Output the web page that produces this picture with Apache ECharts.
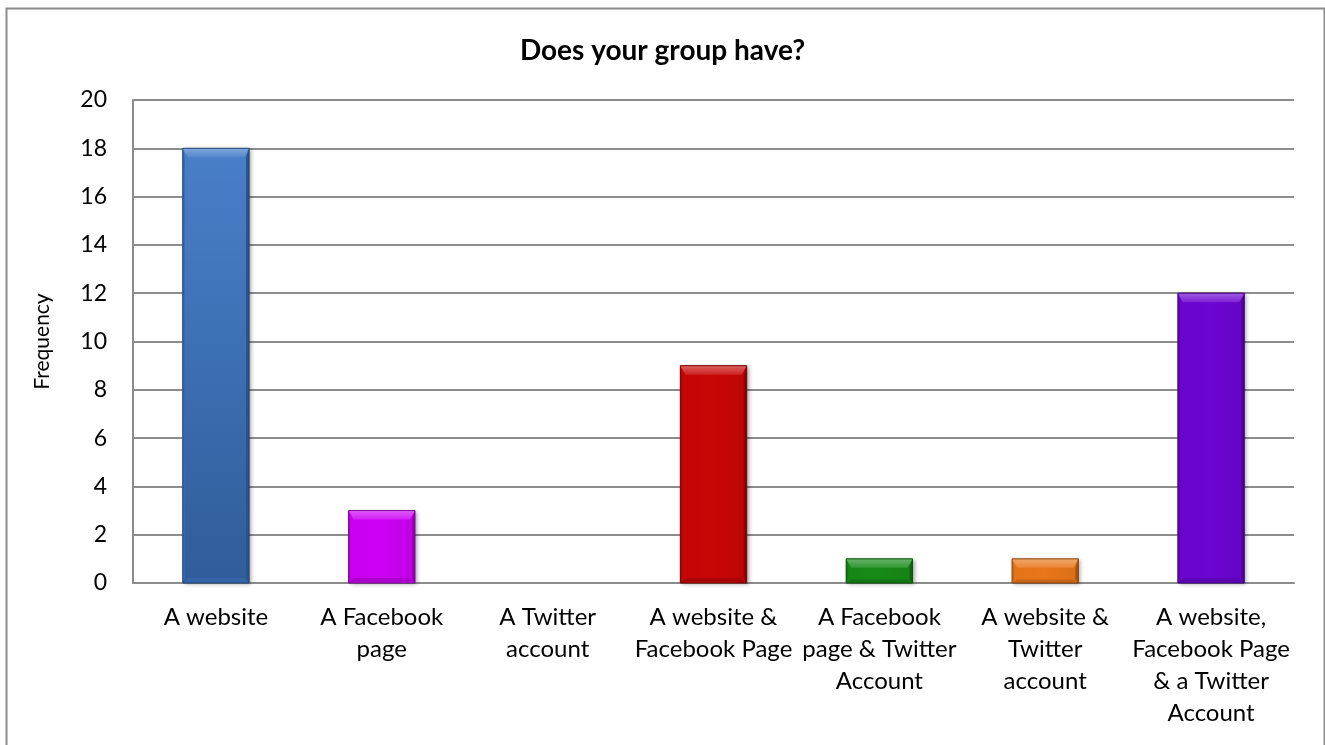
<!DOCTYPE html>
<html>
<head>
<meta charset="utf-8">
<script src="https://cdn.jsdelivr.net/npm/echarts@6/dist/echarts.min.js"></script>
<style>
  html, body { margin: 0; padding: 0; background: #fff; }
  #chart { width: 1325px; height: 745px; }
</style>
</head>
<body>
<div id="chart"></div>
<script>
const titleText = 'Does your group have?';
const yAxisName = 'Frequency';
const categories = [
  'A website',
  'A Facebook\npage',
  'A Twitter\naccount',
  'A website &\nFacebook Page',
  'A Facebook\npage & Twitter\nAccount',
  'A website &\nTwitter\naccount',
  'A website,\nFacebook Page\n& a Twitter\nAccount'
];
const values = [18, 3, 0, 9, 1, 1, 12];
const colorList = ['#3d77c6', '#cc00f5', '#888888', '#c80606', '#168a16', '#e8761a', '#6c04d2'];
const yMin = 0, yMax = 20, yInterval = 2;

function shade(hex, amt) {
  const n = parseInt(hex.slice(1), 16);
  let r = (n >> 16) & 255, g = (n >> 8) & 255, b = n & 255;
  if (amt >= 0) {
    r = Math.round(r + (255 - r) * amt); g = Math.round(g + (255 - g) * amt); b = Math.round(b + (255 - b) * amt);
  } else {
    r = Math.round(r * (1 + amt)); g = Math.round(g * (1 + amt)); b = Math.round(b * (1 + amt));
  }
  return 'rgb(' + r + ',' + g + ',' + b + ')';
}

const chart = echarts.init(document.getElementById('chart'));
const font = 'Lato, "Open Sans", sans-serif';

function renderBar(params, api) {
  const idx = api.value(0);
  const v = api.value(1);
  if (!v) return null;
  const top = api.coord([idx, v]);
  const base = api.coord([idx, 0]);
  const w = api.size([1, 0])[0] * 0.4;
  const x0 = top[0] - w / 2, x1 = top[0] + w / 2;
  const y0 = top[1], y1 = base[1];
  const h = y1 - y0;
  const bt = Math.min(9, h * 0.38);
  const bb = Math.min(5, h * 0.15);
  const bs = 5;
  const c = colorList[params.dataIndex];
  const isBlue = params.dataIndex === 0;
  const bodyFill = isBlue
    ? new echarts.graphic.LinearGradient(0, 0, 0, 1, [
        { offset: 0, color: shade(c, 0.06) }, { offset: 1, color: shade(c, -0.22) }])
    : new echarts.graphic.LinearGradient(0, 0, 1, 0, [
        { offset: 0, color: shade(c, -0.02) }, { offset: 0.5, color: c }, { offset: 1, color: shade(c, -0.06) }]);
  return {
    type: 'group',
    children: [
      { type: 'rect', shape: { x: x0, y: y0, width: w, height: h },
        style: { fill: bodyFill, shadowBlur: 4, shadowOffsetX: 2, shadowOffsetY: 1, shadowColor: 'rgba(0,0,0,0.35)' } },
      { type: 'polygon', shape: { points: [[x0, y0], [x1, y0], [x1 - bs, y0 + bt], [x0 + bs, y0 + bt]] },
        style: { fill: new echarts.graphic.LinearGradient(0, 0, 0, 1, [
          { offset: 0, color: shade(c, 0.35) }, { offset: 1, color: shade(c, 0.12) }]) } },
      { type: 'polygon', shape: { points: [[x0, y1], [x1, y1], [x1 - bs, y1 - bb], [x0 + bs, y1 - bb]] },
        style: { fill: shade(c, -0.15) } },
      { type: 'polygon', shape: { points: [[x1, y0], [x1, y1], [x1 - 3, y1 - bb], [x1 - 3, y0 + bt]] },
        style: { fill: shade(c, -0.3) } },
      { type: 'polygon', shape: { points: [[x0, y0], [x0, y1], [x0 + 2, y1 - bb], [x0 + 2, y0 + bt]] },
        style: { fill: shade(c, -0.12) } },
      { type: 'rect', shape: { x: x0, y: y0, width: w, height: h },
        style: { fill: 'none', stroke: shade(c, -0.4), lineWidth: 1 } }
    ]
  };
}

chart.setOption({
  animation: false,
  backgroundColor: '#fff',
  title: {
    text: titleText, left: 'center', top: 32,
    textStyle: { fontFamily: font, fontSize: 28, fontWeight: 'bold', color: '#000' }
  },
  grid: { left: 133, right: 31, top: 100, bottom: 162 },
  xAxis: {
    type: 'category', data: categories,
    axisLine: { show: true, lineStyle: { color: '#8c8c8c', width: 2 } },
    axisTick: { show: false },
    axisLabel: { interval: 0, fontFamily: font, fontSize: 24, color: '#000', lineHeight: 32, margin: 18 }
  },
  yAxis: {
    type: 'value', min: yMin, max: yMax, interval: yInterval,
    name: yAxisName, nameLocation: 'middle', nameRotate: 90, nameGap: 80,
    nameTextStyle: { fontFamily: font, fontSize: 21, color: '#000' },
    axisLine: { show: true, lineStyle: { color: '#8c8c8c', width: 2 } },
    axisTick: { show: false },
    axisLabel: { fontFamily: font, fontSize: 23, color: '#000', margin: 26 },
    splitLine: { lineStyle: { color: '#8c8c8c', width: 2 } }
  },
  series: [{
    type: 'custom',
    renderItem: renderBar,
    data: values.map((v, i) => [i, v]),
    encode: { x: 0, y: 1 }
  }],
  graphic: [{
    type: 'rect', left: 4, top: 6, z: 100,
    shape: { width: 1318, height: 800 },
    style: { fill: 'none', stroke: '#8c8c8c', lineWidth: 2 }
  }]
});
</script>
</body>
</html>
